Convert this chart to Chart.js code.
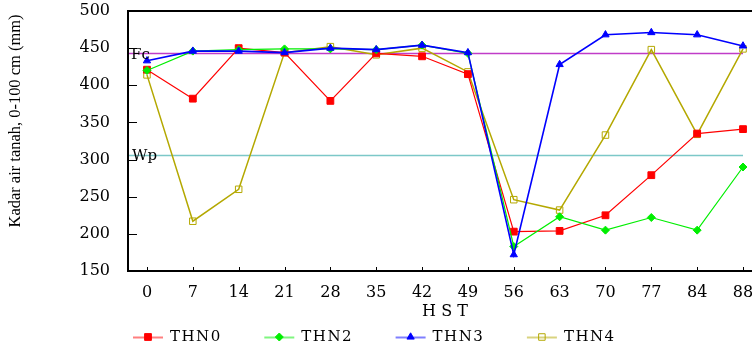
<!DOCTYPE html>
<html>
<head>
<meta charset="utf-8">
<script src="https://cdn.jsdelivr.net/npm/chart.js@4"></script>
<style>
  html, body { margin: 0; padding: 0; background: #ffffff; }
  canvas { display: block; }
</style>
</head>
<body>
<canvas id="chart" width="752" height="351"></canvas>
<script>
// Days after planting (HST) shown on the x axis
const categories = ['0', '7', '14', '21', '28', '35', '42', '49', '56', '63', '70', '77', '84', '88'];

// Soil water content, 0-100 cm (mm), per treatment
const thn0 = [421, 382, 450, 444, 379, 443, 439, 415, 203, 204, 225, 279, 335, 341];
const thn2 = [420, 446, 448, 449, 449, 448, 454, 443, 183, 223, 205, 222, 205, 290];
const thn3 = [433, 446, 446, 444, 450, 448, 454, 444, 172, 428, 468, 471, 468, 453];
const thn4 = [414, 217, 260, 444, 452, 441, 450, 418, 246, 232, 333, 448, 334, 449];

// Field capacity and wilting point levels (mm)
const fcLevel = 444;
const wpLevel = 306;

// Value axis ticks
const yTicks = [150, 200, 250, 300, 350, 400, 450, 500];

const seriesNames = ['THN0', 'THN2', 'THN3', 'THN4'];

const toPoints = arr => arr.map((v, i) => ({ x: i, y: v }));

const SERIF = "'DejaVu Serif', serif";

// keep the plot area fixed: no extra room reserved for edge labels
const noEdgePadding = s => {
  s.paddingTop = 0;
  s.paddingBottom = 0;
  s.paddingLeft = 0;
  s.paddingRight = 0;
};

const frame = {
  id: 'frame',
  beforeDatasetsDraw(chart) {
    const { ctx, chartArea: a, scales: { x, y } } = chart;
    const xEnd = x.getPixelForValue(categories.length - 1);
    ctx.save();
    [[fcLevel, '#c03cc8'], [wpLevel, '#7cc8c8']].forEach(([v, c]) => {
      const py = Math.round(y.getPixelForValue(v)) + 0.5;
      ctx.strokeStyle = c;
      ctx.lineWidth = 1.4;
      ctx.beginPath();
      ctx.moveTo(a.left, py);
      ctx.lineTo(xEnd, py);
      ctx.stroke();
    });
    ctx.restore();
  },
  afterDraw(chart) {
    const { ctx, chartArea: a, scales: { x, y } } = chart;
    ctx.save();

    // frame: left axis, top edge, bottom axis
    ctx.strokeStyle = '#000';
    ctx.lineWidth = 2;
    ctx.beginPath();
    ctx.moveTo(a.left, a.top);
    ctx.lineTo(a.left, a.bottom);
    ctx.moveTo(a.left - 1, a.top);
    ctx.lineTo(chart.width, a.top);
    ctx.moveTo(a.left - 1, a.bottom);
    ctx.lineTo(chart.width, a.bottom);
    ctx.stroke();

    // inward tick marks
    ctx.lineWidth = 1;
    ctx.beginPath();
    y.ticks.forEach(t => {
      const py = Math.round(y.getPixelForValue(t.value)) + 0.5;
      ctx.moveTo(a.left, py);
      ctx.lineTo(a.left + 9, py);
    });
    x.ticks.forEach(t => {
      const px = Math.round(x.getPixelForValue(t.value)) + 0.5;
      ctx.moveTo(px, a.bottom);
      ctx.lineTo(px, a.bottom - 4);
    });
    ctx.stroke();

    // Fc / Wp labels
    ctx.fillStyle = '#000';
    ctx.font = '15px ' + SERIF;
    ctx.textAlign = 'left';
    ctx.textBaseline = 'alphabetic';
    ctx.fillText('Fc', a.left + 3, y.getPixelForValue(fcLevel) + 6);
    ctx.fillText('Wp', a.left + 4, y.getPixelForValue(wpLevel) + 5);

    // x axis title
    ctx.font = '16px ' + SERIF;
    ctx.textAlign = 'center';
    ctx.textBaseline = 'middle';
    ctx.fillText('H S T', 445, 312);

    // y axis title (condensed serif, rotated)
    ctx.save();
    ctx.translate(16, 121);
    ctx.rotate(-Math.PI / 2);
    ctx.font = "16px 'Liberation Serif', serif";
    const yTitle = 'Kadar air tanah, 0-100 cm (mm)';
    const w = ctx.measureText(yTitle).width;
    ctx.scale(213 / w, 1);
    ctx.fillText(yTitle, 0, 0);
    ctx.restore();

    // legend: line segment with marker, then name
    const ly = 337;
    chart.data.datasets.forEach((ds, i) => {
      const cx = 148 + i * 131.3;
      ctx.globalAlpha = 0.5;
      ctx.strokeStyle = ds.borderColor;
      ctx.lineWidth = 2;
      ctx.beginPath();
      ctx.moveTo(cx - 15, ly + 0.5);
      ctx.lineTo(cx + 15, ly + 0.5);
      ctx.stroke();
      ctx.globalAlpha = 1;
      ctx.fillStyle = ds.pointBackgroundColor;
      ctx.strokeStyle = ds.pointBorderColor;
      ctx.lineWidth = ds.pointBorderWidth;
      Chart.helpers.drawPoint(ctx, {
        pointStyle: ds.pointStyle,
        radius: ds.pointRadius,
        borderWidth: ds.pointBorderWidth
      }, cx, ly);
      ctx.fillStyle = '#000';
      ctx.font = '15px ' + SERIF;
      ctx.textAlign = 'left';
      ctx.textBaseline = 'middle';
      if ('letterSpacing' in ctx) ctx.letterSpacing = '1.5px';
      ctx.fillText(seriesNames[i], cx + 22, ly);
      if ('letterSpacing' in ctx) ctx.letterSpacing = '0px';
    });

    ctx.restore();
  }
};

const makeSeries = (label, data, color, style, radius, fill, order, lw) => ({
  label,
  data: toPoints(data),
  borderColor: color,
  backgroundColor: fill,
  pointBackgroundColor: fill,
  pointBorderColor: color,
  pointStyle: style,
  pointRadius: radius,
  pointBorderWidth: 1,
  borderWidth: lw,
  order,
  tension: 0
});

const datasets = [
  makeSeries(seriesNames[0], thn0, '#ff0000', 'rect', 4.8, '#ff0000', 2, 1.2),
  makeSeries(seriesNames[1], thn2, '#00ee00', 'rectRot', 4, '#00ee00', 1, 1.2),
  makeSeries(seriesNames[2], thn3, '#0000ff', 'triangle', 4.2, '#0000ff', 0, 1.6),
  makeSeries(seriesNames[3], thn4, '#b4a800', 'rect', 4.6, 'rgba(255,255,255,0)', 3, 1.5)
];

new Chart(document.getElementById('chart'), {
  type: 'line',
  data: { datasets },
  options: {
    responsive: false,
    devicePixelRatio: 1,
    animation: false,
    layout: { autoPadding: false, padding: { top: 11, left: 0, right: 0, bottom: 0 } },
    plugins: {
      legend: { display: false },
      tooltip: { enabled: false }
    },
    scales: {
      x: {
        type: 'linear',
        min: -0.414,
        max: 13.196,
        afterBuildTicks: s => { s.ticks = categories.map((_, i) => ({ value: i })); },
        afterFit: s => { s.height = 80; noEdgePadding(s); },
        grid: { display: false, drawTicks: false },
        border: { display: false },
        ticks: {
          padding: 12,
          maxRotation: 0,
          autoSkip: false,
          color: '#000',
          font: { family: SERIF, size: 16 },
          callback: v => categories[v] ?? ''
        }
      },
      y: {
        type: 'linear',
        min: yTicks[0],
        max: yTicks[yTicks.length - 1],
        afterBuildTicks: s => { s.ticks = yTicks.map(v => ({ value: v })); },
        afterFit: s => { s.width = 128; noEdgePadding(s); },
        grid: { display: false, drawTicks: false },
        border: { display: false },
        ticks: {
          padding: 18,
          color: '#000',
          font: { family: SERIF, size: 16 }
        }
      }
    }
  },
  plugins: [frame]
});
</script>
</body>
</html>
